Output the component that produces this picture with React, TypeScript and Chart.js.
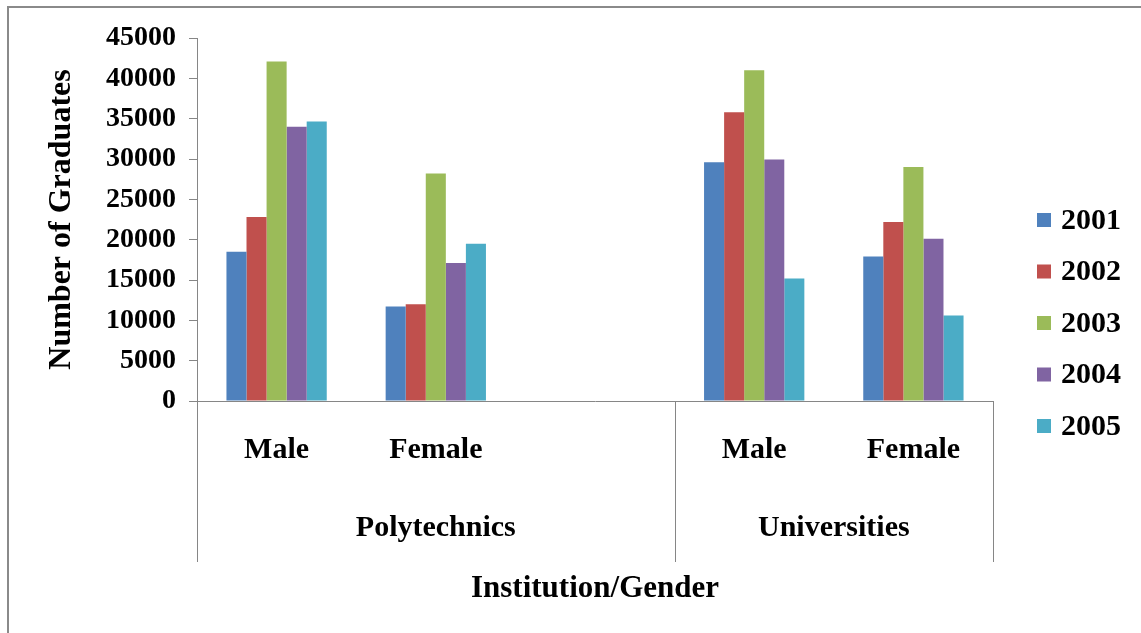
import React, { useEffect, useRef } from 'react';
import { Chart, registerables } from 'chart.js';

Chart.register(...registerables);

const categories = ['Male', 'Female', '', 'Male', 'Female'];
const groupNames = ['Polytechnics', 'Universities'];
const groupSizes = [3, 2];
const years = ['2001', '2002', '2003', '2004', '2005'];
const v2001 = [18500, 11700, null, 29600, 17900];
const v2002 = [22800, 12000, null, 35800, 22200];
const v2003 = [42100, 28200, null, 41000, 29000];
const v2004 = [34000, 17100, null, 29950, 20100];
const v2005 = [34650, 19500, null, 15200, 10600];
const seriesValues = [v2001, v2002, v2003, v2004, v2005];
const colors = ['#4F81BD', '#C0504D', '#9BBB59', '#8064A2', '#4BACC6'];
const yMin = 0;
const yMax = 45000;
const yStep = 5000;
const yTitle = 'Number of Graduates';
const xTitle = 'Institution/Gender';

const FONT = '"Liberation Serif", "Times New Roman", serif';
const AXIS_GRAY = '#868686';

const groupPlugin = {
  id: 'groupLabels',
  afterDraw(chart: any) {
    const { ctx, chartArea, scales } = chart;
    const x = scales.x;
    const n = categories.length;
    const catW = (x.right - x.left) / n;
    const bounds: number[] = [x.getPixelForValue(0) - catW / 2];
    let idx = 0;
    groupSizes.forEach((s) => {
      idx += s;
      bounds.push(x.getPixelForValue(idx - 1) + catW / 2);
    });
    ctx.save();
    ctx.strokeStyle = AXIS_GRAY;
    ctx.lineWidth = 1;
    bounds.forEach((bx) => {
      const px = Math.round(bx) + 0.5;
      ctx.beginPath();
      ctx.moveTo(px, chartArea.bottom);
      ctx.lineTo(px, chartArea.bottom + 161);
      ctx.stroke();
    });
    ctx.fillStyle = '#000';
    ctx.font = `bold 30px ${FONT}`;
    ctx.textAlign = 'center';
    ctx.textBaseline = 'middle';
    groupNames.forEach((g, i) => {
      ctx.fillText(g, (bounds[i] + bounds[i + 1]) / 2, chartArea.bottom + 127);
    });
    ctx.restore();
  },
};

const legendPlugin = {
  id: 'sideLegend',
  afterDraw(chart: any) {
    const { ctx } = chart;
    ctx.save();
    ctx.font = `bold 30px ${FONT}`;
    ctx.textAlign = 'left';
    ctx.textBaseline = 'middle';
    chart.data.datasets.forEach((ds: any, i: number) => {
      const cy = 220 + i * 51.5;
      ctx.fillStyle = ds.backgroundColor;
      ctx.fillRect(1037, cy - 7, 14, 14);
      ctx.fillStyle = '#000';
      ctx.fillText(ds.label, 1061, cy + 1);
    });
    ctx.restore();
  },
};

export default function App() {
  const canvasRef = useRef<HTMLCanvasElement | null>(null);

  useEffect(() => {
    if (!canvasRef.current) return;
    const chart = new Chart(canvasRef.current, {
      type: 'bar',
      data: {
        labels: categories,
        datasets: years.map((y, i) => ({
          label: y,
          data: seriesValues[i],
          backgroundColor: colors[i],
          borderWidth: 0,
          categoryPercentage: 0.63,
          barPercentage: 1,
        })),
      },
      options: {
        responsive: false,
        animation: false,
        layout: { padding: { left: 0, top: 38, right: 148, bottom: 0 } },
        plugins: {
          legend: { display: false },
          tooltip: { enabled: false },
        },
        scales: {
          x: {
            afterFit: (scale: any) => {
              scale.height = 232;
            },
            grid: { display: false },
            border: { display: true, color: AXIS_GRAY, width: 1 },
            ticks: {
              color: '#000',
              padding: 23,
              font: { family: FONT, size: 30, weight: 'bold' },
              maxRotation: 0,
              autoSkip: false,
            },
            title: {
              display: true,
              text: xTitle,
              color: '#000',
              font: { family: FONT, size: 31, weight: 'bold' },
              padding: { top: 0, bottom: 25 },
            },
          },
          y: {
            min: yMin,
            max: yMax,
            afterFit: (scale: any) => {
              scale.width = 197;
            },
            grid: {
              drawOnChartArea: false,
              drawTicks: true,
              tickLength: 8,
              color: AXIS_GRAY,
            },
            border: { display: true, color: AXIS_GRAY, width: 1 },
            ticks: {
              stepSize: yStep,
              color: '#000',
              padding: 13,
              font: { family: FONT, size: 28, weight: 'bold' },
              callback: (v: any) => String(v),
            },
            title: {
              display: true,
              text: yTitle,
              color: '#000',
              font: { family: FONT, size: 32, weight: 'bold' },
              padding: { top: 43, bottom: 0 },
            },
          },
        },
      },
      plugins: [groupPlugin, legendPlugin],
    });
    return () => chart.destroy();
  }, []);

  return (
    <div
      style={{
        position: 'fixed',
        left: 0,
        top: 0,
        width: 1141,
        height: 633,
        overflow: 'hidden',
        background: '#fff',
      }}
    >
      <div
        style={{
          position: 'absolute',
          left: 7,
          top: 6,
          width: 2000,
          height: 2000,
          borderLeft: '2px solid #8a8a8a',
          borderTop: '2px solid #8a8a8a',
        }}
      />
      <canvas
        ref={canvasRef}
        width={1141}
        height={633}
        style={{ position: 'absolute', left: 0, top: 0 }}
      />
    </div>
  );
}
